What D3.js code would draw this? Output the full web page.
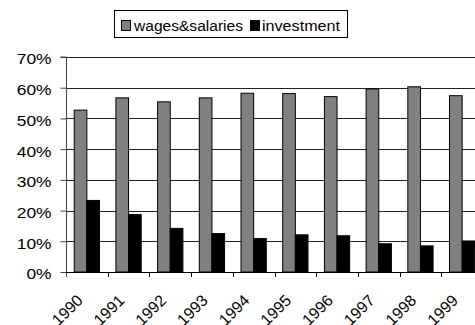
<!DOCTYPE html>
<html>
<head>
<meta charset="utf-8">
<script src="https://cdn.jsdelivr.net/npm/d3@7"></script>
<style>
  html, body { margin: 0; padding: 0; background: #fff; }
  svg { display: block; font-family: "Liberation Sans", Arial, sans-serif; }
</style>
</head>
<body>
<svg id="chart" width="475" height="325"></svg>
<script>
// Shares of income, 1990–1999
const years = ["1990","1991","1992","1993","1994","1995","1996","1997","1998","1999"];
const seriesNames = ["wages&salaries", "investment"];
const wages = [52.7, 56.7, 55.4, 56.7, 58.2, 58.1, 57.1, 59.6, 60.3, 57.4];
const investment = [23.3, 18.7, 14.2, 12.5, 10.9, 12.1, 11.8, 9.2, 8.5, 10.1];
const yTicks = [0, 10, 20, 30, 40, 50, 60, 70];
const colors = ["#808080", "#000000"];

const svg = d3.select("#chart");
const plotLeft = 66, plotRight = 483, plotTop = 57, plotBottom = 272;

const x = d3.scaleBand().domain(years).range([plotLeft, plotRight]).paddingInner(0).paddingOuter(0);
const y = d3.scaleLinear().domain([0, 70]).range([plotBottom, plotTop]);

// bar pair occupies 2 bar widths, gap of 1.3 bar widths between groups
const barW = x.bandwidth() / 3.3;
const x1 = d3.scaleBand().domain(seriesNames)
  .range([barW * 0.65, barW * 0.65 + 2 * barW]).padding(0);

// slightly widened glyphs, as in the printed chart
function stretch(sel, factor) {
  sel.each(function () {
    const w = this.getComputedTextLength();
    d3.select(this).attr("textLength", w * factor).attr("lengthAdjust", "spacingAndGlyphs");
  });
}

// horizontal gridlines
svg.append("g")
  .selectAll("line")
  .data(yTicks.filter(t => t > 0))
  .join("line")
  .attr("x1", plotLeft).attr("x2", 475)
  .attr("y1", d => Math.round(y(d)) + 0.5).attr("y2", d => Math.round(y(d)) + 0.5)
  .attr("stroke", "#222").attr("stroke-width", 1);

// bars
const rows = years.map((yr, i) => ({ year: yr, values: [wages[i], investment[i]] }));
const groups = svg.append("g").selectAll("g")
  .data(rows).join("g")
  .attr("transform", d => `translate(${x(d.year)},0)`);
groups.selectAll("rect")
  .data(d => d.values.map((v, j) => ({ name: seriesNames[j], value: v, j })))
  .join("rect")
  .attr("x", d => x1(d.name))
  .attr("width", x1.bandwidth())
  .attr("y", d => y(d.value))
  .attr("height", d => y(0) - y(d.value))
  .attr("fill", d => colors[d.j])
  .attr("stroke", "#000").attr("stroke-width", 1);

// y axis
const yAxis = d3.axisLeft(y).tickValues(yTicks).tickFormat(d => d + "%").tickSize(6).tickPadding(9);
const yg = svg.append("g").attr("transform", `translate(${plotLeft + 0.5},0)`).call(yAxis);
yg.select(".domain").attr("stroke", "#444").attr("d", `M-6,${plotTop}H0V${plotBottom + 5}`);
yg.selectAll(".tick line").attr("stroke", "#444");
yg.selectAll(".tick text").attr("fill", "#000").attr("dy", "0.45em")
  .style("font-size", "15.5px").attr("font-family", "Liberation Sans, Arial, sans-serif")
  .call(stretch, 1.12);

// x axis with ticks between categories
const xAxis = d3.axisBottom(x).tickSize(0).tickPadding(0);
const xg = svg.append("g").attr("transform", `translate(0,${plotBottom + 0.5})`).call(xAxis);
xg.select(".domain").attr("stroke", "#000").attr("d", `M${plotLeft},0H475`);
xg.selectAll(".tick text")
  .attr("text-anchor", "end")
  .attr("transform", "translate(-11,21) rotate(-45)")
  .attr("dy", "0.7em")
  .attr("fill", "#000")
  .style("font-size", "16px").attr("font-family", "Liberation Sans, Arial, sans-serif");
svg.append("g").selectAll("line")
  .data(years.slice(1))
  .join("line")
  .attr("x1", d => Math.round(x(d)) + 0.5).attr("x2", d => Math.round(x(d)) + 0.5)
  .attr("y1", plotBottom).attr("y2", plotBottom + 5)
  .attr("stroke", "#000");

// legend
const lg = svg.append("g");
lg.append("rect").attr("x", 114.5).attr("y", 10.5).attr("width", 233).attr("height", 27)
  .attr("fill", "#fff").attr("stroke", "#000");
const items = [
  { name: seriesNames[0], sx: 121, tx: 134, w: 109 },
  { name: seriesNames[1], sx: 250, tx: 262, w: 78 }
];
items.forEach((it, i) => {
  lg.append("rect").attr("x", it.sx + 0.5).attr("y", 20.5).attr("width", 9).attr("height", 10)
    .attr("fill", colors[i]).attr("stroke", "#000");
  lg.append("text").attr("x", it.tx).attr("y", 30.5)
    .style("font-size", "15.5px")
    .attr("textLength", it.w).attr("lengthAdjust", "spacingAndGlyphs")
    .text(it.name);
});
</script>
</body>
</html>
